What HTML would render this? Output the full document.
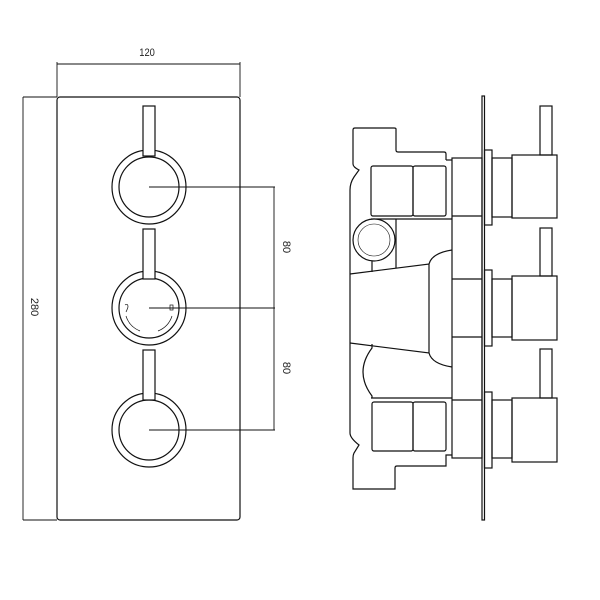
<!DOCTYPE html>
<html><head><style>html,body{margin:0;padding:0;background:#fff}svg{display:block}</style></head>
<body>
<svg width="600" height="600" viewBox="0 0 600 600" xmlns="http://www.w3.org/2000/svg">
<rect width="600" height="600" fill="#fff"/>
<g fill="none" stroke="#111" stroke-width="1.2">
<!-- left view -->
<line x1="57" y1="64" x2="240" y2="64" stroke-width="0.9"/>
<line x1="57" y1="62" x2="57" y2="97" stroke-width="0.9"/>
<line x1="240" y1="62" x2="240" y2="97" stroke-width="0.9"/>
<line x1="23" y1="97" x2="57" y2="97" stroke-width="0.9"/>
<line x1="23" y1="97" x2="23" y2="520" stroke-width="0.9"/>
<line x1="23" y1="520" x2="57" y2="520" stroke-width="0.9"/>
<rect x="57" y="97" width="183" height="423" rx="3"/>
<g>
<circle cx="149" cy="187" r="37"/><circle cx="149" cy="187" r="30"/>
<circle cx="149" cy="308" r="37"/><circle cx="149" cy="308" r="30"/>
<circle cx="149" cy="430" r="37"/><circle cx="149" cy="430" r="30"/>
</g>
<g fill="#fff">
<rect x="143" y="106" width="12" height="50"/>
<rect x="143" y="229" width="12" height="50"/>
<rect x="143" y="350" width="12" height="50"/>
</g>
<line x1="149" y1="187" x2="275" y2="187" stroke-width="0.9"/>
<line x1="149" y1="308" x2="275" y2="308" stroke-width="0.9"/>
<line x1="149" y1="430" x2="275" y2="430" stroke-width="0.9"/>
<line x1="274" y1="187" x2="274" y2="430" stroke-width="0.9"/>
<path d="M126 316 A24 24 0 0 0 140 331 M172 316 A24 24 0 0 1 158 331" stroke-width="0.7"/>
<path d="M125 305 q3 -2 3 2 q-1 3 -2 5" stroke-width="0.7"/>
<rect x="170" y="305" width="3" height="5" stroke-width="0.7"/>
<!-- right view: plate -->
<rect x="482" y="96" width="2.5" height="424" fill="#fff"/>
<!-- top body -->
<path d="M446 160 L446 154 Q446 152 444 152 L398 152 Q396 152 396 150 L396 129 Q396 128 394 128 L355 128 Q353 128 353 130 L353 164 Q353 167 359 170 L354 177 Q350 183 350 190 L350 274"/>
<path d="M446 160 L452 160"/>
<rect x="371" y="166" width="42" height="50" rx="2"/>
<rect x="413" y="166" width="33" height="50" rx="2"/>
<line x1="371" y1="219" x2="452" y2="219"/>
<circle cx="374" cy="240" r="21" fill="#fff"/>
<circle cx="374" cy="240" r="16" stroke-width="0.6"/>
<line x1="372" y1="261" x2="372" y2="272"/>
<line x1="396" y1="219" x2="396" y2="268"/>
<path d="M350 274 L429 264 L429 353 L350 343"/>
<path d="M429 264 Q432 253 452 250 M429 353 Q432 364 452 367"/>
<path d="M350 274 L350 343 L350 433 Q350 438 359 445 L354 453 Q353 455 353 458 L353 489 L395 489 L395 468 Q395 466 397 466 L446 466 L446 455 L452 455"/>
<path d="M372 344 L372 348 Q354 372 372 396 L372 398" />
<line x1="371" y1="398" x2="452" y2="398"/>
<rect x="372" y="402" width="41" height="49" rx="2"/>
<rect x="413" y="402" width="33" height="49" rx="2"/>
<!-- valve block -->
<rect x="452" y="158" width="30" height="300"/>
<line x1="452" y1="216" x2="482" y2="216"/>
<line x1="452" y1="279" x2="482" y2="279"/>
<line x1="452" y1="337" x2="482" y2="337"/>
<line x1="452" y1="400" x2="482" y2="400"/>
<!-- flanges, spindles, knobs, levers -->
<rect x="484.5" y="150" width="7.5" height="75"/>
<rect x="484.5" y="270" width="7.5" height="76"/>
<rect x="484.5" y="392" width="7.5" height="76"/>
<rect x="492" y="158" width="20" height="59"/>
<rect x="492" y="279" width="20" height="58"/>
<rect x="492" y="400" width="20" height="58"/>
<rect x="512" y="155" width="45" height="63"/>
<rect x="512" y="276" width="45" height="64"/>
<rect x="512" y="398" width="45" height="64"/>
<rect x="540" y="106" width="12" height="49"/>
<rect x="540" y="228" width="12" height="48"/>
<rect x="540" y="349" width="12" height="49"/>
</g>
<g font-family="Liberation Sans, sans-serif" font-size="11" fill="#222">
<text x="147" y="56" text-anchor="middle" transform="scale(0.85 1) translate(26 0)">120</text>
<text transform="translate(31 307) rotate(90)" text-anchor="middle">280</text>
<text transform="translate(283 247) rotate(90)" text-anchor="middle">80</text>
<text transform="translate(283 368) rotate(90)" text-anchor="middle">80</text>
</g>
</svg>
</body></html>
